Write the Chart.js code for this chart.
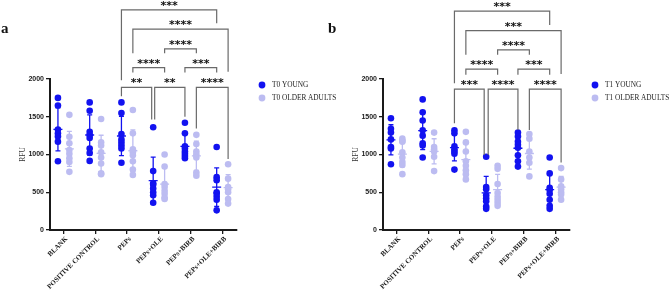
<!DOCTYPE html>
<html>
<head>
<meta charset="utf-8">
<script src="https://cdn.jsdelivr.net/npm/chart.js@4.4.1/dist/chart.umd.min.js"></script>
<style>
  html, body { margin: 0; padding: 0; background: #fff; }
  #wrap { position: relative; width: 669px; height: 291px; overflow: hidden; }
  canvas { position: absolute; top: 0; }
  .panel { position: absolute; top: 20px; font: bold 15px "Liberation Serif", serif; color: #111; }
</style>
</head>
<body>
<div id="wrap">
  <canvas id="chartA" width="345" height="291" style="left:0"></canvas>
  <canvas id="chartB" width="336" height="291" style="left:333px"></canvas>
  <div class="panel" style="left:1px">a</div>
  <div class="panel" style="left:328px">b</div>
</div>
<script>
const categories = ['BLANK', 'POSITIVE CONTROL', 'PEPs', 'PEPs+OLE', 'PEPs+BIRB', 'PEPs+OLE+BIRB'];
const yTicks = [0, 500, 1000, 1500, 2000];

// T0
const t0Young = [
    [1750, 1650, 1330, 1280, 1240, 1170, 910],
    [1690, 1580, 1300, 1260, 1220, 1080, 1020, 915],
    [1690, 1550, 1270, 1200, 1160, 1120, 1080, 890],
    [1360, 780, 620, 600, 550, 500, 460, 360],
    [1420, 1280, 1110, 1080, 1040, 1010, 980, 950],
    [1100, 700, 660, 500, 480, 440, 400, 260]
];
const t0Older = [
    [1525, 1235, 1150, 1060, 1010, 950, 900, 770],
    [1470, 1160, 1120, 1030, 960, 880, 750, 740],
    [1590, 1280, 1070, 1030, 990, 910, 800, 730],
    [1000, 840, 610, 570, 520, 480, 430, 410],
    [1260, 1140, 1040, 1000, 960, 760, 720],
    [870, 680, 570, 540, 500, 410, 350]
];

// T1
const t1Young = [
    [1480, 1340, 1290, 1200, 1100, 1080, 870],
    [1730, 1560, 1450, 1320, 1250, 1150, 1120, 960],
    [1320, 1280, 1110, 1070, 1040, 1010, 800],
    [970, 570, 540, 460, 420, 380, 310, 280],
    [1290, 1240, 1170, 1130, 1090, 990, 910, 840],
    [960, 750, 560, 530, 480, 400, 320, 280]
];
const t1Older = [
    [1210, 1180, 1170, 1030, 960, 900, 860, 740],
    [1290, 1100, 1070, 1040, 970, 780],
    [1300, 1160, 1040, 910, 850, 790, 740, 670],
    [850, 810, 610, 490, 440, 400, 360, 320],
    [1270, 1210, 1040, 960, 890, 710],
    [820, 670, 580, 540, 500, 470, 400]
];

// significance: [category, group] -> [category, group], bar level, leg ends (RFU), stars
const t0Sig = [
    { from: [2, 0], to: [5, 0], level: 2915, legs: [1985, 2740], stars: '***' },
    { from: [2, 1], to: [5, 1], level: 2660, legs: [2340, 2095], stars: '****' },
    { from: [3, 1], to: [4, 1], level: 2400, legs: [2340, 2340], stars: '****' },
    { from: [2, 1], to: [3, 1], level: 2150, legs: [2085, 2085], stars: '****' },
    { from: [4, 0], to: [5, 0], level: 2150, legs: [2085, 2085], stars: '***' },
    { from: [2, 0], to: [3, 0], level: 1890, legs: [1770, 1465], stars: '**', nudge: [0, -1.5] },
    { from: [3, 0], to: [4, 0], level: 1890, legs: [1465, 1500], stars: '**', nudge: [1.5, 0] },
    { from: [4, 1], to: [5, 1], level: 1890, legs: [1345, 940], stars: '****' }
];
const t1Sig = [
    { from: [2, 0], to: [5, 0], level: 2900, legs: [1945, 2715], stars: '***' },
    { from: [2, 1], to: [5, 1], level: 2640, legs: [2320, 2065], stars: '***' },
    { from: [3, 1], to: [4, 1], level: 2385, legs: [2320, 2320], stars: '****' },
    { from: [2, 1], to: [3, 1], level: 2130, legs: [2055, 2055], stars: '****' },
    { from: [4, 0], to: [5, 0], level: 2130, legs: [2055, 2055], stars: '***' },
    { from: [2, 0], to: [3, 0], level: 1865, legs: [1415, 995], stars: '***', nudge: [0, -2] },
    { from: [3, 0], to: [4, 0], level: 1865, legs: [995, 1325], stars: '****', nudge: [2, 0] },
    { from: [4, 1], to: [5, 1], level: 1865, legs: [1325, 895], stars: '****' }
];

const youngColor = '#1212f0';
const olderColor = '#bcbcf1';
const groupOffset = [-0.18, 0.18];

function mean(a) { return a.reduce((s, v) => s + v, 0) / a.length; }
function sd(a) {
    const m = mean(a);
    return Math.sqrt(a.reduce((s, v) => s + (v - m) * (v - m), 0) / (a.length - 1));
}

const errorBars = {
    id: 'errorBars',
    beforeDatasetsDraw(chart) {
        const { ctx, scales: { x, y } } = chart;
        ctx.save();
        ctx.lineWidth = 1.3;
        chart.data.datasets.forEach((ds, d) => {
            ctx.strokeStyle = ds.backgroundColor;
            ds.values.forEach((vals, i) => {
                const px = x.getPixelForValue(i + groupOffset[d]);
                const m = mean(vals), s = sd(vals);
                const yTop = y.getPixelForValue(m + s), yBot = y.getPixelForValue(m - s), yM = y.getPixelForValue(m);
                ctx.beginPath();
                ctx.moveTo(px, yTop); ctx.lineTo(px, yBot);
                ctx.moveTo(px - 2.5, yTop); ctx.lineTo(px + 2.5, yTop);
                ctx.moveTo(px - 2.5, yBot); ctx.lineTo(px + 2.5, yBot);
                ctx.moveTo(px - 4.5, yM); ctx.lineTo(px + 4.5, yM);
                ctx.stroke();
            });
        });
        ctx.restore();
    }
};

const sigBrackets = {
    id: 'sigBrackets',
    afterDraw(chart, args, opts) {
        const { ctx, scales: { x, y } } = chart;
        ctx.save();
        ctx.strokeStyle = '#6a6a6a';
        ctx.lineWidth = 1.2;
        ctx.fillStyle = '#111';
        ctx.font = 'bold 11px "DejaVu Sans"';
        ctx.textAlign = 'center';
        ctx.textBaseline = 'alphabetic';
        opts.items.forEach(b => {
            const n = b.nudge || [0, 0];
            const x1 = x.getPixelForValue(b.from[0] + groupOffset[b.from[1]]) + n[0];
            const x2 = x.getPixelForValue(b.to[0] + groupOffset[b.to[1]]) + n[1];
            const yl = y.getPixelForValue(b.level);
            ctx.beginPath();
            ctx.moveTo(x1, y.getPixelForValue(b.legs[0]));
            ctx.lineTo(x1, yl);
            ctx.lineTo(x2, yl);
            ctx.lineTo(x2, y.getPixelForValue(b.legs[1]));
            ctx.stroke();
            ctx.fillText(b.stars, (x1 + x2) / 2, yl - 1);
        });
        ctx.restore();
    }
};

const dotLegend = {
    id: 'dotLegend',
    afterDraw(chart) {
        const { ctx, chartArea } = chart;
        ctx.save();
        ctx.font = '7.3px "Liberation Serif"';
        ctx.textBaseline = 'middle';
        chart.data.datasets.forEach((ds, d) => {
            const cy = chartArea.top + 6 + d * 13;
            ctx.fillStyle = ds.backgroundColor;
            ctx.beginPath();
            ctx.arc(chartArea.right + 25, cy, 3.4, 0, Math.PI * 2);
            ctx.fill();
            ctx.fillStyle = '#222';
            ctx.fillText(ds.label, chartArea.right + 35, cy + 0.5);
        });
        ctx.restore();
    }
};

function makeChart(id, young, older, labels, sig, yWidth) {
    const toPoints = (groups, d) => groups.flatMap((vals, i) => vals.map(v => ({ x: i + groupOffset[d], y: v })));
    const canvas = document.getElementById(id);
    return new Chart(canvas, {
        type: 'scatter',
        data: {
            datasets: [
                { label: labels[0], data: toPoints(young, 0), values: young, backgroundColor: youngColor, pointRadius: 3.3, pointBorderWidth: 0 },
                { label: labels[1], data: toPoints(older, 1), values: older, backgroundColor: olderColor, pointRadius: 3.3, pointBorderWidth: 0 }
            ]
        },
        options: {
            responsive: false,
            animation: false,
            events: [],
            layout: { padding: { top: 79, left: 0, bottom: 0, right: canvas.width - yWidth - 187 } },
            plugins: {
                legend: { display: false },
                tooltip: { enabled: false },
                sigBrackets: { items: sig }
            },
            scales: {
                x: {
                    type: 'linear',
                    min: -0.43,
                    max: 5.46,
                    afterBuildTicks: axis => { axis.ticks = categories.map((c, i) => ({ value: i })); },
                    afterFit: axis => { axis.height = 61; },
                    ticks: {
                        callback: v => categories[v],
                        autoSkip: false,
                        minRotation: 45,
                        maxRotation: 45,
                        padding: 1,
                        labelOffset: 3,
                        color: '#1a1a1a',
                        font: { family: '"Liberation Serif"', size: 7, weight: 'bold' }
                    },
                    grid: { drawOnChartArea: false, tickLength: 4, color: '#1a1a1a', lineWidth: 1.3 },
                    border: { color: '#1a1a1a', width: 2 }
                },
                y: {
                    min: 0,
                    max: 2000,
                    afterBuildTicks: axis => { axis.ticks = yTicks.map(v => ({ value: v })); },
                    afterFit: axis => { axis.width = yWidth; },
                    ticks: {
                        callback: v => String(v),
                        padding: 2,
                        color: '#1a1a1a',
                        font: { family: '"Liberation Sans"', size: 7, weight: 'bold' }
                    },
                    grid: { drawOnChartArea: false, tickLength: 4, color: '#1a1a1a', lineWidth: 1.3 },
                    border: { color: '#1a1a1a', width: 2 },
                    title: {
                        display: true,
                        text: 'RFU',
                        color: '#333',
                        font: { family: '"Liberation Serif"', size: 7.5 },
                        padding: { top: 18.5, bottom: 0 }
                    }
                }
            }
        },
        plugins: [errorBars, sigBrackets, dotLegend]
    });
}

makeChart('chartA', t0Young, t0Older, ['T0 YOUNG', 'T0 OLDER ADULTS'], t0Sig, 50);
makeChart('chartB', t1Young, t1Older, ['T1 YOUNG', 'T1 OLDER ADULTS'], t1Sig, 50);
</script>
</body>
</html>
